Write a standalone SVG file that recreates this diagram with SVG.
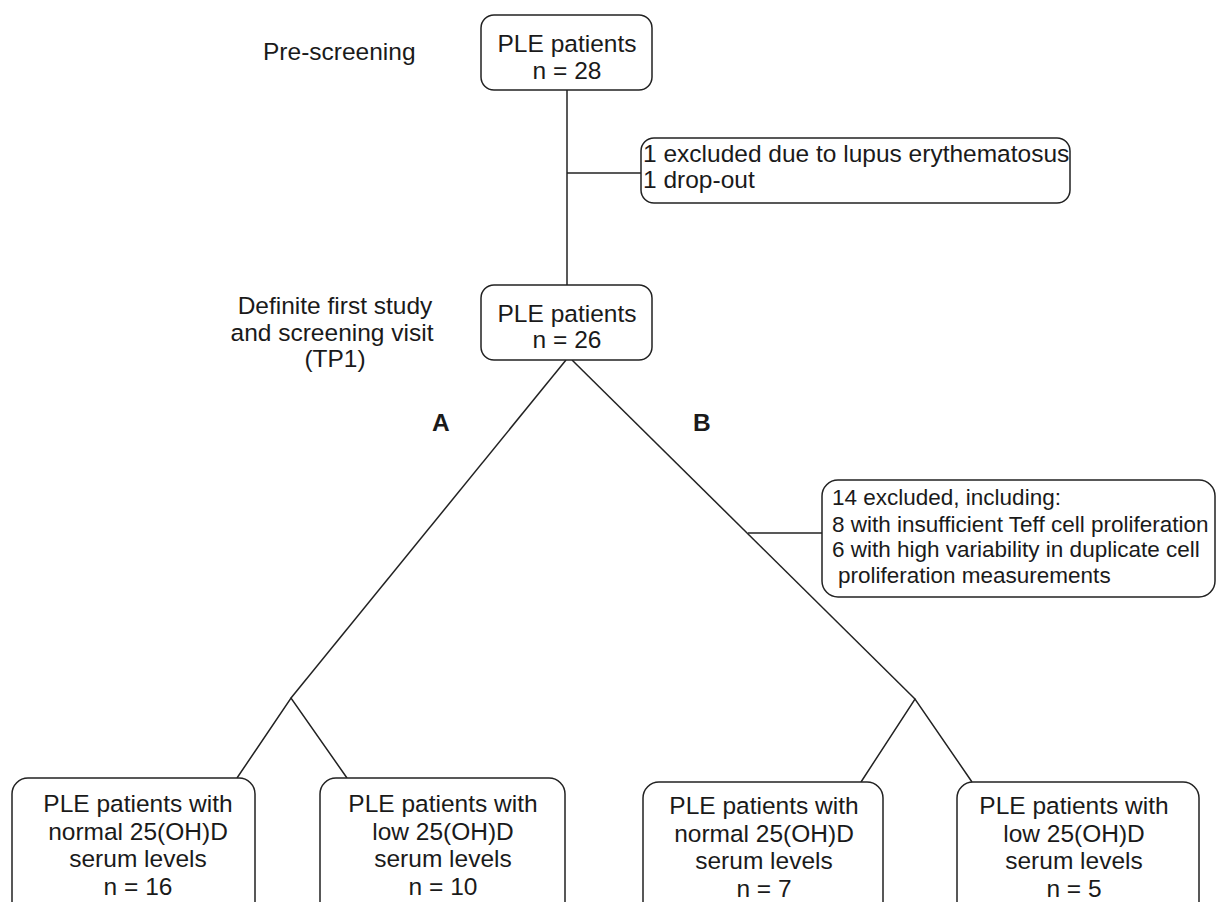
<svg xmlns="http://www.w3.org/2000/svg" width="1217" height="902" viewBox="0 0 1217 902">
<style>
.box{fill:#fff;stroke:#222;stroke-width:1.5}
.ln{fill:none;stroke:#222;stroke-width:1.5}
text{font-family:"Liberation Sans",Arial,sans-serif;font-size:24.5px;fill:#1a1a1a}
.c{text-anchor:middle}
.b{font-weight:bold}
.s{font-size:22.5px}
</style>
<rect width="1217" height="902" fill="#fff"/>
<g id="connectors">
<line class="ln" x1="567" y1="90" x2="567" y2="285"/>
<line class="ln" x1="567" y1="173" x2="641" y2="173"/>
<line class="ln" x1="566" y1="360" x2="291" y2="698"/>
<line class="ln" x1="572" y1="360" x2="915" y2="699"/>
<line class="ln" x1="748" y1="533" x2="822" y2="533"/>
<polyline class="ln" points="237,778 291,698 347,778"/>
<polyline class="ln" points="861,782 915,699 972,782"/>
</g>
<g id="label-prescreening"><text x="263" y="60">Pre-screening</text></g>
<g id="label-definite">
<text class="c" x="335" y="314">Definite first study</text>
<text class="c" x="332" y="341">and screening visit</text>
<text class="c" x="335" y="367">(TP1)</text>
</g>
<g id="label-A"><text class="b" x="432" y="431">A</text></g>
<g id="label-B"><text class="b" x="693" y="431">B</text></g>
<g id="node-top">
<rect class="box" x="481" y="15" width="171" height="75" rx="13"/>
<text class="c" x="567" y="52">PLE patients</text>
<text class="c" x="567" y="79">n = 28</text>
</g>
<g id="node-excl1">
<rect class="box" x="641" y="138" width="429" height="65" rx="13"/>
<text x="643" y="162">1 excluded due to lupus erythematosus</text>
<text x="643" y="188">1 drop-out</text>
</g>
<g id="node-tp1">
<rect class="box" x="481" y="285" width="171" height="75" rx="13"/>
<text class="c" x="567" y="322">PLE patients</text>
<text class="c" x="567" y="348">n = 26</text>
</g>
<g id="node-excl2">
<rect class="box" x="822" y="480" width="393" height="117" rx="16"/>
<text class="s" x="832" y="505">14 excluded, including:</text>
<text class="s" x="832" y="532">8 with insufficient Teff cell proliferation</text>
<text class="s" x="832" y="557">6 with high variability in duplicate cell</text>
<text class="s" x="838" y="583">proliferation measurements</text>
</g>
<g id="node-A-normal">
<rect class="box" x="12" y="778" width="243" height="150" rx="16"/>
<text class="c" x="138" y="812">PLE patients with</text>
<text class="c" x="138" y="840">normal 25(OH)D</text>
<text class="c" x="138" y="867">serum levels</text>
<text class="c" x="138" y="895">n = 16</text>
</g>
<g id="node-A-low">
<rect class="box" x="320" y="778" width="245" height="150" rx="16"/>
<text class="c" x="443" y="812">PLE patients with</text>
<text class="c" x="443" y="840">low 25(OH)D</text>
<text class="c" x="443" y="867">serum levels</text>
<text class="c" x="443" y="895">n = 10</text>
</g>
<g id="node-B-normal">
<rect class="box" x="643" y="782" width="240" height="150" rx="16"/>
<text class="c" x="764" y="814">PLE patients with</text>
<text class="c" x="764" y="842">normal 25(OH)D</text>
<text class="c" x="764" y="869">serum levels</text>
<text class="c" x="764" y="897">n = 7</text>
</g>
<g id="node-B-low">
<rect class="box" x="957" y="782" width="242" height="150" rx="16"/>
<text class="c" x="1074" y="814">PLE patients with</text>
<text class="c" x="1074" y="842">low 25(OH)D</text>
<text class="c" x="1074" y="869">serum levels</text>
<text class="c" x="1074" y="897">n = 5</text>
</g>
</svg>
